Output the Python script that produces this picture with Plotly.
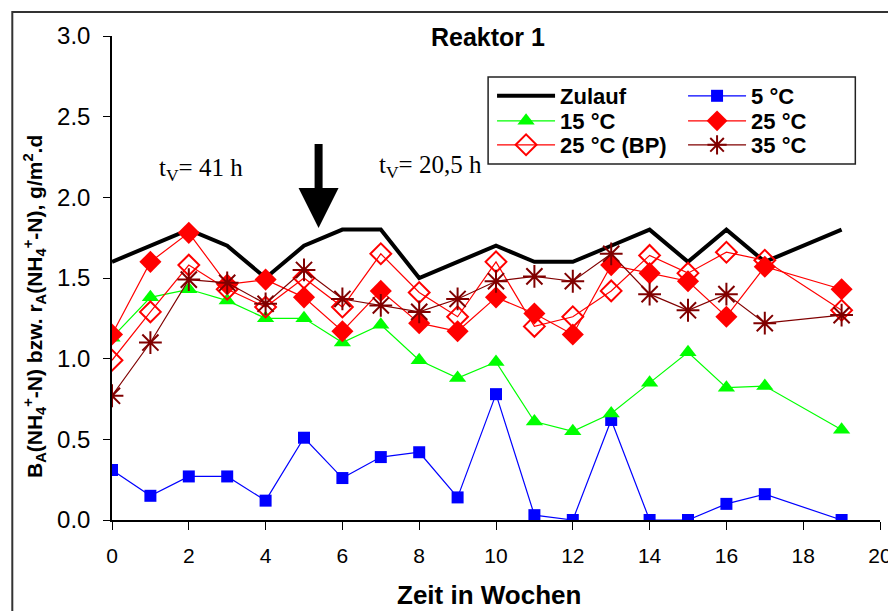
import plotly.graph_objects as go

weeks = [0, 1, 2, 3, 4, 5, 6, 7, 8, 9, 10, 11, 12, 13, 14, 15, 16, 17, 19]
zulauf = [1.6, 1.7, 1.8, 1.7, 1.5, 1.7, 1.8, 1.8, 1.5, 1.6, 1.7, 1.6, 1.6, 1.7, 1.8, 1.6, 1.8, 1.6, 1.8]
t05 = [0.31, 0.15, 0.27, 0.27, 0.12, 0.51, 0.26, 0.39, 0.42, 0.14, 0.78, 0.03, 0.0, 0.62, 0.0, 0.0, 0.10, 0.16, 0.0]
t15 = [1.13, 1.38, 1.43, 1.36, 1.25, 1.25, 1.10, 1.21, 0.99, 0.88, 0.98, 0.61, 0.55, 0.66, 0.85, 1.04, 0.82, 0.83, 0.56]
t25 = [1.15, 1.60, 1.78, 1.46, 1.49, 1.38, 1.17, 1.42, 1.22, 1.17, 1.38, 1.28, 1.15, 1.58, 1.53, 1.48, 1.26, 1.57, 1.43]
t25bp = [0.99, 1.29, 1.58, 1.43, 1.32, 1.50, 1.32, 1.65, 1.41, 1.26, 1.60, 1.20, 1.26, 1.42, 1.64, 1.53, 1.66, 1.61, 1.30]
t35 = [0.77, 1.10, 1.49, 1.47, 1.34, 1.55, 1.37, 1.33, 1.29, 1.37, 1.48, 1.51, 1.48, 1.65, 1.40, 1.30, 1.40, 1.22, 1.27]

# reference-pixel helpers (plot area 112..890 x, 36..520 y)
def px(p):
    return (p - 112) / 778.0

def py(p):
    return (520 - p) / 484.0

fig = go.Figure()
fig.add_trace(go.Scatter(x=weeks, y=zulauf, name="Zulauf", mode="lines", legend="legend",
                         line=dict(color="black", width=4)))
fig.add_trace(go.Scatter(x=weeks, y=t05, name="5 °C", mode="lines+markers", legend="legend",
                         line=dict(color="#0000FF", width=1.2),
                         marker=dict(symbol="square", size=12, color="#0000FF")))
fig.add_trace(go.Scatter(x=weeks, y=t15, name="15 °C", mode="lines+markers", legend="legend2",
                         line=dict(color="#00FF00", width=1.2),
                         marker=dict(symbol="triangle-up", size=15, color="#00FF00")))
fig.add_trace(go.Scatter(x=weeks, y=t25, name="25 °C", mode="lines+markers", legend="legend2",
                         line=dict(color="#FF0000", width=1.2),
                         marker=dict(symbol="diamond", size=17, color="#FF0000")))
fig.add_trace(go.Scatter(x=weeks, y=t25bp, name="25 °C (BP)", mode="lines+markers", legend="legend3",
                         line=dict(color="#FF0000", width=1.2),
                         marker=dict(symbol="diamond-open", size=16, color="#FF0000",
                                     line=dict(width=2, color="#FF0000"))))
fig.add_trace(go.Scatter(x=weeks, y=t35, name="35 °C", mode="lines+markers", legend="legend3",
                         line=dict(color="#800000", width=1.2),
                         marker=dict(symbol="asterisk-open", size=19, color="#800000",
                                     line=dict(width=2, color="#800000"))))

legend_font = dict(size=22, family="Liberation Sans, Arial, sans-serif", weight="bold", color="black")


def row_legend(top):
    return dict(orientation="h", x=px(497), y=py(top), xanchor="left", yanchor="top",
                bgcolor="rgba(0,0,0,0)", borderwidth=0, font=legend_font,
                itemwidth=58, entrywidth=118, entrywidthmode="pixels")


# the page body adds an 8px offset, so margins are reduced by 8 on left/top
fig.update_layout(
    width=896, height=611,
    margin=dict(l=104, r=14, t=28, b=99),
    paper_bgcolor="white", plot_bgcolor="white",
    font=dict(family="Liberation Sans, Arial, sans-serif", color="black"),
    showlegend=True,
    legend=row_legend(75),
    legend2=row_legend(100),
    legend3=row_legend(124),
    xaxis=dict(range=[0, 20], dtick=2, tick0=0, showgrid=False, zeroline=False,
               showline=True, linecolor="black", linewidth=1.5,
               ticks="outside", ticklen=8, tickcolor="black",
               tickfont=dict(size=21), ticklabelstandoff=8),
    yaxis=dict(range=[0, 3.0], dtick=0.5, tick0=0, tickformat=".1f", showgrid=False,
               zeroline=False, showline=True, linecolor="black", linewidth=1.5,
               ticks="outside", ticklen=7, tickcolor="black",
               tickfont=dict(size=24), ticklabelstandoff=8),
)

fig.add_annotation(text="<b>Zeit in Wochen</b>", xref="paper", yref="paper",
                   x=px(494), y=py(595), xanchor="center", yanchor="middle",
                   showarrow=False, font=dict(size=26))
fig.add_annotation(text="<b>B<sub>A</sub>(NH<sub>4</sub><sup>+</sup>-N) bzw. r<sub>A</sub>(NH<sub>4</sub><sup>+</sup>-N), g/m<sup>2</sup>.d</b>",
                   xref="paper", yref="paper", x=px(33), y=py(307),
                   xanchor="center", yanchor="middle", textangle=-90,
                   showarrow=False, font=dict(size=21))
fig.add_annotation(text="<b>Reaktor 1</b>", xref="paper", yref="paper",
                   x=px(493), y=py(37), xanchor="center", yanchor="middle",
                   showarrow=False, font=dict(size=25))
fig.add_annotation(text="t<sub>V</sub>= 41 h", xref="x", yref="y",
                   x=2.33, y=2.17, showarrow=False,
                   font=dict(size=25, family="Liberation Serif, Times New Roman, serif"))
fig.add_annotation(text="t<sub>V</sub>= 20,5 h", xref="x", yref="y",
                   x=8.3, y=2.19, showarrow=False,
                   font=dict(size=25, family="Liberation Serif, Times New Roman, serif"))
fig.add_annotation(x=5.38, y=1.81, ax=5.38, ay=2.34, xref="x", yref="y",
                   axref="x", ayref="y", text="", showarrow=True,
                   arrowhead=2, arrowsize=1.0, arrowwidth=8, arrowcolor="black")

# legend frame
fig.add_shape(type="rect", xref="paper", yref="paper",
              x0=px(493), y0=py(164), x1=px(865), y1=py(77),
              line=dict(color="#222222", width=1.5), fillcolor="white", layer="below")
# outer chart frame
fig.add_shape(type="rect", xref="paper", yref="paper",
              x0=px(11), y0=py(640), x1=px(920), y1=py(12),
              line=dict(color="#333333", width=2), fillcolor="rgba(0,0,0,0)", layer="below")

fig.write_html("out.html")
